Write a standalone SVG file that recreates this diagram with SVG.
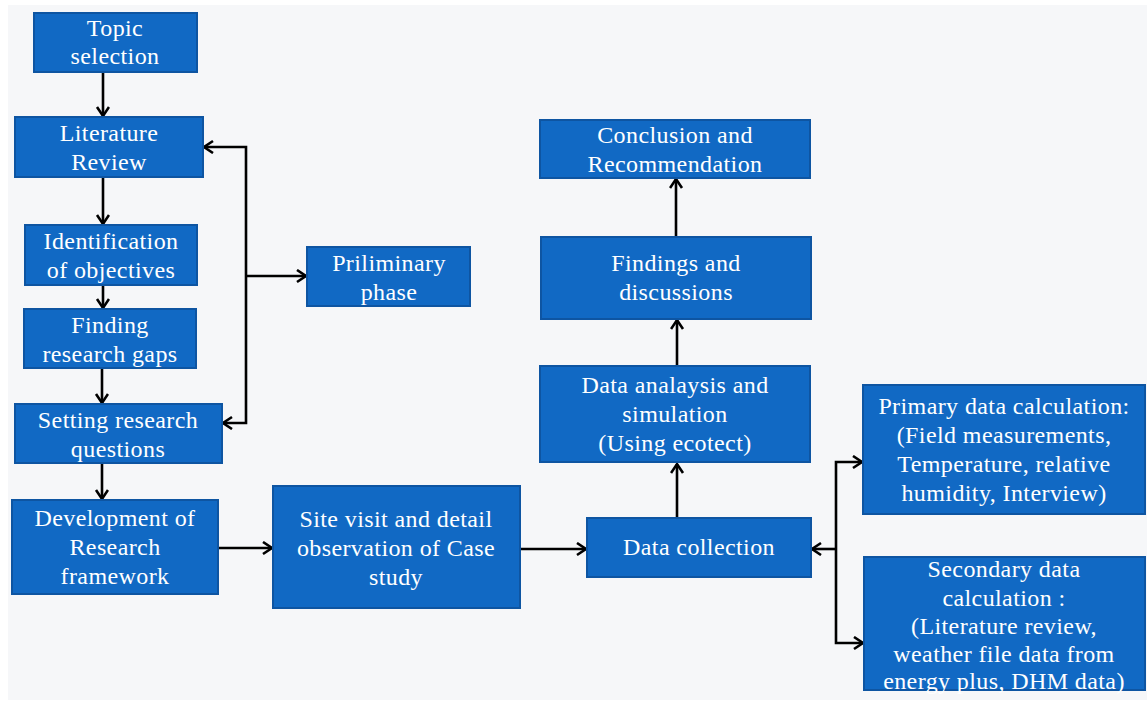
<svg xmlns="http://www.w3.org/2000/svg" width="1147" height="702" viewBox="0 0 1147 702">
<defs>
<style>
.box{fill:#1169c4;stroke:#0e55a2;stroke-width:2}
.t{font-family:"Liberation Serif","DejaVu Serif",serif;font-size:24px;letter-spacing:0.4px;fill:#ffffff;text-anchor:middle}
.c{fill:none;stroke:#000;stroke-width:2.6}
</style>
<marker id="ah" markerUnits="userSpaceOnUse" markerWidth="16" markerHeight="16" refX="11" refY="7" orient="auto">
<path d="M2,1 L11,7 L2,13" fill="none" stroke="#000" stroke-width="2.6"/>
</marker>
</defs>
<rect width="1147" height="702" fill="#ffffff"/>
<rect x="8" y="5" width="1139" height="695" fill="#f6f7f9"/>

<g id="connectors">
<path class="c" d="M103,72 L103,116" marker-end="url(#ah)"/>
<path class="c" d="M103,177 L103,224" marker-end="url(#ah)"/>
<path class="c" d="M103,285 L103,308" marker-end="url(#ah)"/>
<path class="c" d="M102,368 L102,403" marker-end="url(#ah)"/>
<path class="c" d="M102,463 L102,499" marker-end="url(#ah)"/>
<path class="c" d="M246,276 L246,147 L204,147" marker-end="url(#ah)"/>
<path class="c" d="M246,276 L246,423 L223,423" marker-end="url(#ah)"/>
<path class="c" d="M246,276 L306,276" marker-end="url(#ah)"/>
<path class="c" d="M218,548 L272,548" marker-end="url(#ah)"/>
<path class="c" d="M520,549 L586,549" marker-end="url(#ah)"/>
<path class="c" d="M677,518 L677,464" marker-end="url(#ah)"/>
<path class="c" d="M677,366 L677,320" marker-end="url(#ah)"/>
<path class="c" d="M676,237 L676,179" marker-end="url(#ah)"/>
<path class="c" d="M836,549 L812,549" marker-end="url(#ah)"/>
<path class="c" d="M836,549 L836,462 L862,462" marker-end="url(#ah)"/>
<path class="c" d="M836,549 L836,643 L863,643" marker-end="url(#ah)"/>
</g>

<g id="topic-selection">
<rect class="box" x="34" y="13" width="163" height="59"/>
<text class="t" x="115" y="36">Topic</text>
<text class="t" x="115" y="64">selection</text>
</g>
<g id="literature-review">
<rect class="box" x="15" y="117" width="188" height="60"/>
<text class="t" x="109" y="141">Literature</text>
<text class="t" x="109" y="170">Review</text>
</g>
<g id="identification-objectives">
<rect class="box" x="25" y="225" width="172" height="60"/>
<text class="t" x="111" y="249">Identification</text>
<text class="t" x="111" y="278">of objectives</text>
</g>
<g id="finding-gaps">
<rect class="box" x="24" y="309" width="172" height="59"/>
<text class="t" x="110" y="333">Finding</text>
<text class="t" x="110" y="362">research gaps</text>
</g>
<g id="setting-questions">
<rect class="box" x="15" y="404" width="207" height="59"/>
<text class="t" x="118" y="428">Setting research</text>
<text class="t" x="118" y="457">questions</text>
</g>
<g id="development-framework">
<rect class="box" x="12" y="500" width="206" height="94"/>
<text class="t" x="115" y="526">Development of</text>
<text class="t" x="115" y="555">Research</text>
<text class="t" x="115" y="584">framework</text>
</g>
<g id="priliminary-phase">
<rect class="box" x="307" y="247" width="163" height="59"/>
<text class="t" x="389" y="271">Priliminary</text>
<text class="t" x="389" y="300">phase</text>
</g>
<g id="site-visit">
<rect class="box" x="273" y="486" width="247" height="122"/>
<text class="t" x="396" y="527">Site visit and detail</text>
<text class="t" x="396" y="556">observation of Case</text>
<text class="t" x="396" y="585">study</text>
</g>
<g id="data-collection">
<rect class="box" x="587" y="518" width="224" height="59"/>
<text class="t" x="699" y="555">Data collection</text>
</g>
<g id="data-analysis">
<rect class="box" x="540" y="366" width="270" height="96"/>
<text class="t" x="675" y="393">Data analaysis and</text>
<text class="t" x="675" y="422">simulation</text>
<text class="t" x="675" y="451">(Using ecotect)</text>
</g>
<g id="findings-discussions">
<rect class="box" x="541" y="237" width="270" height="82"/>
<text class="t" x="676" y="271">Findings and</text>
<text class="t" x="676" y="300">discussions</text>
</g>
<g id="conclusion-recommendation">
<rect class="box" x="540" y="120" width="270" height="58"/>
<text class="t" x="675" y="143">Conclusion and</text>
<text class="t" x="675" y="172">Recommendation</text>
</g>
<g id="primary-data">
<rect class="box" x="863" y="385" width="282" height="129"/>
<text class="t" x="1004" y="414">Primary data calculation:</text>
<text class="t" x="1004" y="443">(Field measurements,</text>
<text class="t" x="1004" y="472">Temperature, relative</text>
<text class="t" x="1004" y="501">humidity, Interview)</text>
</g>
<g id="secondary-data">
<rect class="box" x="864" y="557" width="281" height="133"/>
<text class="t" x="1004" y="577">Secondary data</text>
<text class="t" x="1004" y="606">calculation :</text>
<text class="t" x="1004" y="634">(Literature review,</text>
<text class="t" x="1004" y="662">weather file data from</text>
<text class="t" x="1004" y="689">energy plus, DHM data)</text>
</g>
</svg>
